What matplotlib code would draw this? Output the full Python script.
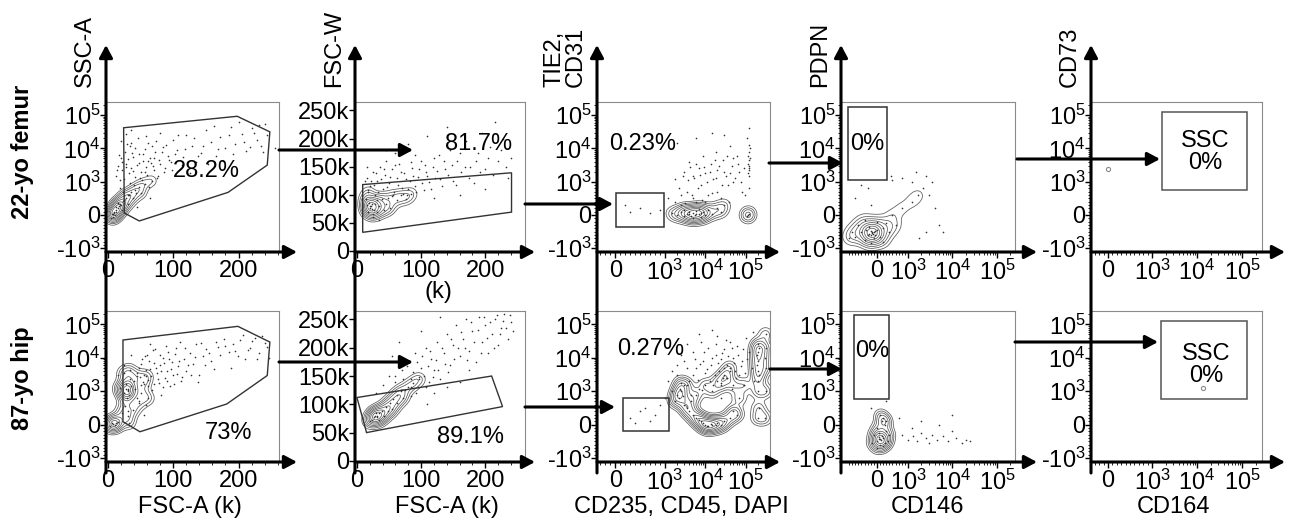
import numpy as np
import matplotlib.pyplot as plt
from matplotlib.patches import FancyArrowPatch, Polygon, Rectangle
from matplotlib.ticker import FixedLocator, FixedFormatter, MultipleLocator, NullLocator

plt.rcParams['font.family'] = ['Liberation Sans', 'DejaVu Sans']
plt.rcParams['mathtext.fontset'] = 'custom'
plt.rcParams['mathtext.rm'] = 'Liberation Sans'
plt.rcParams['mathtext.it'] = 'Liberation Sans:italic'
plt.rcParams['mathtext.bf'] = 'Liberation Sans:bold'

# ---------------- data: events ----------------
# row A = 22-yo femur, row B = 87-yo hip
# col 1: FSC-A (k) vs SSC-A
a1_core = [(6, 30), (9, 90), (12, 150), (15, 200), (11, 0), (18, 320), (23, 410), (27, 500),
           (32, 590), (36, 680), (42, 760), (48, 850), (56, 940), (67, 1070), (21, 150),
           (30, 320), (39, 500), (51, 650), (15, 350), (24, 560), (5, -90), (8, -60),
           (10, 60), (13, 100), (8, 40), (12, 250), (17, 260), (20, 300)]
a1_dots = [(12, 1500), (15, 3000), (18, 800), (20, 5000), (22, 2200), (25, 1200), (26, 8000),
           (28, 3500), (30, 600), (32, 1800), (34, 12000), (36, 2600), (38, 5500), (40, 900),
           (42, 1400), (44, 3200), (46, 20000), (48, 7000), (50, 2000), (52, 1100), (54, 4200),
           (56, 9500), (58, 2800), (60, 1600), (62, 15000), (64, 5000), (66, 3600), (70, 2200),
           (72, 8000), (75, 1300), (78, 4500), (80, 30000), (84, 11000), (88, 2600), (92, 6000),
           (96, 3800), (100, 18000), (105, 9000), (110, 2400), (115, 5500), (120, 25000),
           (128, 12000), (135, 4000), (142, 7500), (150, 35000), (158, 16000), (165, 6000),
           (172, 22000), (180, 10000), (188, 45000), (195, 14000), (205, 28000), (212, 8500),
           (220, 40000), (228, 18000), (235, 12000), (240, 55000), (24, 450), (16, 350),
           (35, 15000), (65, 500), (44, 250),
           (14, 2300), (17, 6200), (19, 1100), (21, 3900), (23, 700), (27, 2700), (29, 14000),
           (31, 4800), (33, 950), (37, 7200), (39, 2100), (41, 10500), (43, 650), (47, 3700),
           (49, 1250), (53, 6600), (57, 1900), (59, 23000), (61, 4100), (63, 850), (67, 11500),
           (69, 2900), (71, 5300), (74, 17000), (77, 1500), (79, 3300), (83, 7800), (86, 1900),
           (89, 13000), (94, 4600), (98, 2300), (103, 6800), (108, 26000), (113, 3200),
           (118, 9800), (125, 1800), (132, 21000), (138, 5900), (146, 12000), (154, 3500),
           (162, 48000), (168, 9500), (176, 4200), (185, 26000), (192, 7000), (200, 62000),
           (208, 16000), (217, 11000), (224, 30000), (232, 50000), (238, 8000), (244, 25000),
           (20, 17000), (28, 28000), (36, 36000), (256, 10000)]
a1_gate = [(24, 42000), (198, 93000), (248, 31600), (244, 3160), (184, 680), (48, -180), (25, 60)]

b1_core = [(30, 1070), (30, 1000), (31, 1150), (27, 1700), (24, 940), (33, 2400), (36, 1400),
           (29, 790), (26, 560), (21, 350), (30, 260), (39, 440), (48, 650), (51, 940),
           (55, 1700), (45, 2800), (18, 1230), (6, 60), (11, 0), (15, 90), (3, -30), (32, 60),
           (24, 3400), (33, 4200), (59, 2800), (61, 790), (28, 1200), (32, 900), (8, 30), (12, 50)]
b1_dots = [(40, 2000), (45, 800), (48, 5000), (50, 1500), (52, 9000), (55, 3000), (58, 600),
           (60, 12000), (62, 2200), (65, 4500), (68, 1100), (70, 7000), (72, 18000), (75, 3500),
           (78, 1800), (80, 6000), (82, 900), (85, 10000), (88, 2500), (90, 4000), (92, 15000),
           (95, 1400), (98, 7500), (100, 3000), (104, 20000), (108, 5500), (112, 2000),
           (116, 9000), (120, 4000), (125, 14000), (130, 6500), (135, 25000), (140, 3000),
           (145, 11000), (150, 18000), (158, 8000), (165, 30000), (172, 12000), (180, 22000),
           (188, 5000), (195, 16000), (202, 35000), (210, 9000), (218, 20000), (225, 40000),
           (232, 14000), (240, 28000), (246, 10000), (15, 3000), (25, 6000), (35, 12000),
           (30, 400), (55, 300), (65, 25000), (110, 30000),
           (42, 1200), (44, 3600), (47, 700), (49, 2600), (51, 6400), (53, 1900), (56, 11000),
           (59, 4200), (61, 1400), (63, 8200), (66, 2900), (69, 17000), (71, 1600), (73, 5100),
           (76, 2300), (79, 12500), (81, 3900), (84, 1300), (86, 6900), (89, 22000), (91, 2000),
           (94, 9500), (97, 4700), (101, 1700), (103, 13000), (106, 3300), (109, 7800),
           (114, 2700), (118, 19000), (122, 6000), (127, 3100), (133, 10500), (138, 1900),
           (143, 27000), (148, 6200), (155, 13500), (162, 4500), (169, 21000), (177, 36000),
           (185, 15000), (192, 26000), (199, 11000), (207, 48000), (214, 17000), (221, 31000),
           (229, 9000), (236, 45000), (243, 21000)]
b1_gate = [(23, 34000), (199, 87000), (248, 29500), (244, 2950), (182, 620), (49, -210), (23, 90)]

# col 2: FSC-A (k) vs FSC-W (k)
a2_core = [(15, 81), (20, 76), (23, 84), (26, 72), (31, 90), (35, 79), (17, 69), (39, 93),
           (46, 84), (54, 97), (62, 90), (69, 99), (77, 93), (85, 102), (14, 93), (18, 104),
           (25, 65), (32, 69), (42, 72), (51, 76), (22, 79), (28, 83), (20, 80), (24, 75), (19, 85)]
a2_dots = [(15, 130), (20, 115), (25, 140), (28, 100), (32, 125), (36, 150), (40, 110),
           (44, 135), (48, 95), (50, 120), (55, 145), (58, 105), (62, 130), (66, 155), (70, 112),
           (74, 138), (78, 100), (82, 125), (86, 148), (90, 115), (95, 132), (100, 160),
           (104, 108), (108, 140), (112, 122), (118, 150), (122, 130), (128, 170), (132, 115),
           (138, 145), (145, 180), (150, 125), (156, 160), (162, 140), (170, 195), (176, 150),
           (182, 120), (188, 175), (195, 210), (200, 145), (208, 185), (215, 230), (220, 160),
           (228, 200), (235, 130), (60, 175), (80, 190), (110, 205), (140, 220), (45, 160),
           (25, 60), (35, 55), (120, 95), (160, 100), (200, 110),
           (18, 108), (22, 125), (27, 118), (30, 138), (33, 104), (38, 128), (42, 146), (47, 113),
           (52, 132), (56, 100), (60, 152), (64, 117), (68, 140), (72, 102), (76, 128), (80, 110),
           (84, 158), (88, 133), (92, 104), (97, 145), (102, 120), (106, 152), (110, 133),
           (115, 110), (120, 165), (125, 142), (130, 128), (136, 160), (142, 135), (148, 152),
           (154, 118), (160, 175), (168, 150), (174, 130), (185, 160), (192, 140), (205, 165),
           (212, 135), (225, 180), (232, 150), (240, 165), (12, 125), (16, 150), (45, 180), (90, 170)]
a2_gate = [(9, 118), (241, 139), (241, 69), (9, 33)]

b2_core = [(26, 77), (31, 80), (35, 84), (23, 73), (34, 73), (39, 89), (45, 95), (51, 102),
           (57, 109), (63, 116), (69, 123), (79, 130), (88, 137), (97, 145), (42, 80), (48, 88),
           (29, 84), (20, 70), (54, 91), (62, 102), (72, 112), (28, 79), (32, 77)]
b2_dots = [(30, 120), (40, 135), (50, 150), (60, 140), (70, 160), (75, 125), (80, 175),
           (85, 145), (90, 190), (95, 130), (100, 165), (105, 150), (108, 200), (112, 140),
           (116, 180), (120, 160), (125, 210), (130, 145), (135, 190), (140, 225), (145, 170),
           (150, 205), (155, 240), (160, 185), (165, 215), (170, 250), (175, 195), (180, 230),
           (185, 175), (190, 255), (195, 210), (200, 240), (205, 190), (210, 225), (215, 250),
           (220, 205), (225, 235), (230, 260), (235, 215), (240, 245), (120, 120), (140, 130),
           (160, 140), (55, 185), (65, 210), (100, 230), (130, 255), (175, 160), (110, 100),
           (60, 150), (72, 145), (78, 168), (84, 130), (88, 158), (93, 175), (97, 148), (102, 185),
           (107, 130), (111, 168), (114, 195), (118, 148), (123, 178), (127, 160), (132, 200),
           (137, 172), (142, 158), (147, 215), (152, 180), (157, 200), (162, 228), (168, 200),
           (172, 178), (178, 245), (183, 210), (188, 232), (193, 190), (198, 255), (203, 218),
           (208, 245), (213, 200), (218, 258), (223, 225), (228, 248), (233, 235), (238, 258),
           (243, 230), (92, 120), (85, 115)]
b2_gate = [(0, 112), (210, 150), (227, 96), (15, 50)]

# col 3: CD235, CD45, DAPI vs TIE2, CD31
a3_core = [(1500, 50), (2000, 0), (2500, 80), (3000, -40), (3500, 30), (4000, 100), (4500, -20),
           (5000, 60), (5500, 0), (6000, 120), (7000, 20), (8000, -60), (9000, 80), (10000, 0),
           (12000, 150), (15000, 40), (20000, 200), (25000, 100), (30000, 300), (3000, 150),
           (5000, -100), (7000, 180), (4000, 40), (6000, 40), (8000, 60), (115000, 0),
           (120000, 40), (110000, -30)]
a3_dots = [(1200, 500), (1800, 1200), (2500, 300), (3000, 2000), (3500, 700), (4000, 4000),
           (5000, 1500), (6000, 400), (7000, 2500), (8000, 900), (9000, 6000), (10000, 1800),
           (12000, 600), (14000, 3500), (16000, 1200), (18000, 8000), (20000, 2200), (24000, 500),
           (28000, 4500), (32000, 1500), (36000, 900), (40000, 12000), (45000, 3000),
           (50000, 1000), (60000, 6000), (70000, 2000), (80000, 700), (120000, 1500),
           (120000, 3000), (115000, 6000), (125000, 10000), (110000, 20000), (120000, 40000),
           (118000, 2200), (122000, 800), (130000, 5000), (300, 100), (500, 200), (700, 50),
           (200, 300), (900, 150), (2000, 15000), (6000, 20000), (15000, 30000), (30000, 25000),
           (2500, 600), (5000, 500), (10000, 400), (20000, 700),
           (1800, 400), (2200, 800), (2800, 1500), (3200, 350), (3800, 1100), (4300, 2800),
           (4800, 600), (5300, 1300), (5800, 3300), (6500, 800), (7500, 1600), (8500, 450),
           (9500, 2800), (11000, 1000), (13000, 2000), (15000, 650), (17000, 4500), (19000, 1300),
           (22000, 3000), (26000, 900), (30000, 2000), (34000, 6000), (38000, 400), (42000, 1800),
           (48000, 5000), (55000, 1300), (65000, 3500), (75000, 1000), (90000, 2500), (95000, 600),
           (117000, 1800), (121000, 4500), (119000, 8000), (123000, 13000), (116000, 3500),
           (124000, 2500)]
a3_gate = (20, 980, -350, 650)

b3_core = [(2000, 900), (2200, 800), (2500, 1000), (1800, 700), (2800, 850), (3000, 600),
           (2400, 1200), (4000, 400), (5000, 300), (6000, 200), (8000, 100), (10000, 0),
           (12000, -50), (15000, 0), (20000, 50), (25000, 0), (30000, 100), (40000, 200),
           (50000, 400), (60000, 300), (9000, 50), (11000, -30), (14000, 20), (18000, -20),
           (7000, 150), (3500, 500), (20000, 2000), (30000, 3000), (10000, 1500), (40000, 5000),
           (50000, 1500), (200000, 1000), (200000, 2000), (200000, 4000), (200000, 8000),
           (200000, 15000), (200000, 25000), (210000, 500), (210000, 3000), (190000, 6000),
           (190000, 12000), (210000, 20000), (200000, 200), (310000, 1000), (310000, 5000),
           (310000, 20000), (310000, 50000), (300000, 200), (300000, 10000),
           (15000, 1000), (25000, 1500), (35000, 2500), (70000, 800), (90000, 1500),
           (4500, 700), (6000, 900), (3500, 1500), (2500, 1800)]
b3_dots = [(300, 200), (500, 400), (700, 100), (900, 600), (400, 50), (800, 300), (1200, 2000),
           (1500, 4000), (2000, 3000), (3000, 8000), (4000, 2000), (5000, 15000), (6000, 5000),
           (7000, 1200), (8000, 30000), (9000, 8000), (10000, 3500), (12000, 20000), (14000, 6000),
           (16000, 1500), (18000, 12000), (20000, 45000), (22000, 4000), (25000, 9000),
           (28000, 2500), (30000, 18000), (35000, 6000), (40000, 30000), (45000, 1200),
           (50000, 10000), (55000, 4000), (60000, 22000), (70000, 3000), (80000, 8000),
           (90000, 1500), (100000, 40000), (120000, 15000), (140000, 5000), (150000, 60000),
           (160000, 2000), (3500, 25000), (7000, 50000), (15000, 70000), (2500, 12000),
           (25000, 800),
           (3000, 1500), (3500, 5000), (4500, 900), (5000, 3000), (5500, 9000), (6500, 2200),
           (7500, 6500), (8500, 1100), (9500, 15000), (11000, 4500), (13000, 2000), (15000, 10000),
           (17000, 3000), (19000, 25000), (21000, 7000), (24000, 1800), (26000, 14000),
           (29000, 5000), (32000, 35000), (34000, 2500), (37000, 11000), (42000, 4000),
           (46000, 20000), (52000, 7000), (58000, 2500), (65000, 12000), (75000, 5500),
           (85000, 18000), (95000, 3500), (110000, 9000), (2000, 6000), (1000, 800), (600, 500),
           (1500, 1000)]
b3_gate = (160, 1250, -200, 790)

# col 4: CD146 vs PDPN
a4_core = [(-160, -530), (-160, -500), (-120, -560), (-200, -480), (-100, -520), (-180, -600),
           (-60, -470), (-250, -560), (-300, -600), (0, -450), (-500, -500), (-100, -700),
           (200, -400), (-400, -750), (-700, -650), (100, -650), (-250, -350), (300, -250),
           (-600, -300), (-800, -500), (400, -500), (-200, -850), (0, -200), (600, -300),
           (-900, -700), (-350, -450), (-50, -600), (500, 0), (800, 200), (1200, 400),
           (1700, 600), (-400, -150), (200, -800)]
a4_dots = [(-300, 800), (-500, 900), (450, 1500), (500, 1100), (1500, 2000), (2500, 1500),
           (3000, 600), (4000, 200), (5000, -300), (2500, -500), (-200, 300), (800, 1300),
           (3500, 1000), (6000, -500), (-700, 500), (1800, -700), (1200, 1000), (2200, 800)]
a4_gate = (-930, 320, 1150, 180000)

b4_core = [(100, -440), (80, -420), (120, -470), (0, -500), (200, -400), (-100, -300),
           (300, -200), (100, -600), (200, -650), (0, -100), (150, 100), (250, 0), (50, -250),
           (-150, -550), (350, -500), (400, -300), (150, -350), (100, 300), (200, 200),
           (300, 100), (0, -700), (250, -550), (60, -380)]
b4_dots = [(800, -300), (1000, -450), (1300, -350), (1600, -500), (2000, -250), (2500, -400),
           (3000, -550), (3500, -300), (4500, -450), (6000, -350), (8000, -500), (10000, -200),
           (12000, -400), (16000, -550), (20000, -450), (25000, -500), (1200, -100), (2000, 100),
           (5000, 0), (10000, 300), (-200, 500), (300, 700), (700, 200)]
b4_gate = (-740, 390, 760, 195000)

# col 5: CD164 vs CD73
a5_dots = [(0, 2400)]
a5_gate = (1670, 130000, 740, 123000)
b5_dots = [(13500, 1230)]
b5_gate = (1620, 130000, 760, 130000)

gate_labels = [['28.2%', '81.7%', '0.23%', '0%', 'SSC\n0%'],
               ['73%', '89.1%', '0.27%', '0%', 'SSC\n0%']]
row_labels = ['22-yo femur', '87-yo hip']
y_titles = ['SSC-A', 'FSC-W', 'TIE2,\nCD31', 'PDPN', 'CD73']
x_titles = ['FSC-A (k)', 'FSC-A (k)', 'CD235, CD45, DAPI', 'CD146', 'CD164']

# ---------------- layout (pixels of the 1292x523 canvas) ----------------
W, H = 1292, 523
FS = 17
col_left = [106, 355, 597, 841, 1091]
col_right = [279, 525, 770, 1015, 1262]
axis_tip = [297, 535, 780, 1037, 1285]
row_top = [102, 311]
row_bottom = [252, 462]
x_linscale = [None, None, 1.1, 0.627, 0.88]
x_lims = [(-3, 262), (-3, 262), (-370, 4e5), (-1295, 2.54e5), (-386, 2.78e5)]
log_ylim = (-1300, 2.5e5)
kde_bw = [[4.5, 5, 5, 6, 0], [5, 5, 5, 4.5, 0]]

label_pos = [[(206, 171), (479, 144), (643, 144), (867, 144), (1205, 152)],
             [(229, 433), (470, 437), (651, 349), (872, 351), (1206, 365)]]
links = [[(279, 413, 150), (525, 613, 204), (769, 843, 163), (1017, 1160, 159)],
         [(279, 413, 362), (525, 615, 407), (770, 842, 369), (1015, 1158, 342)]]
x_center = [190, 447, 681, 928, 1173]

fig = plt.figure(figsize=(W / 100, H / 100), dpi=100)


def fpt(x, y):
    return (x / W, 1 - y / H)


def arrow(x0, y0, x1, y1):
    fig.add_artist(FancyArrowPatch(fpt(x0, y0), fpt(x1, y1), transform=fig.transFigure,
                                   arrowstyle='-|>,head_length=0.75,head_width=0.4',
                                   mutation_scale=10, lw=2.2, color='k',
                                   shrinkA=0, shrinkB=0, zorder=10))


def sym_minor(lo, hi):
    t = list(range(-900, 1000, 100))
    for dec in (1e3, 1e4, 1e5):
        for m in range(2, 10):
            t += [m * dec, -m * dec]
    return [v for v in t if lo < v < hi and v != 0]


pow_lab = {1e3: r'$\mathregular{10^3}$', 1e4: r'$\mathregular{10^4}$', 1e5: r'$\mathregular{10^5}$'}


def setup(ax, c):
    if c < 2:
        ax.set_xlim(*x_lims[c])
        ax.xaxis.set_major_locator(FixedLocator([0, 100, 200]))
        ax.xaxis.set_major_formatter(FixedFormatter(['0', '100', '200']))
        ax.xaxis.set_minor_locator(MultipleLocator(20))
    else:
        ax.set_xscale('symlog', linthresh=1000, linscale=x_linscale[c], base=10)
        ax.set_xlim(*x_lims[c])
        ax.xaxis.set_major_locator(FixedLocator([0, 1e3, 1e4, 1e5]))
        ax.xaxis.set_major_formatter(FixedFormatter(['0', pow_lab[1e3], pow_lab[1e4], pow_lab[1e5]]))
        ax.xaxis.set_minor_locator(FixedLocator(sym_minor(*x_lims[c])))
    if c == 1:
        ax.set_ylim(-2, 265)
        ax.yaxis.set_major_locator(FixedLocator([0, 50, 100, 150, 200, 250]))
        ax.yaxis.set_major_formatter(FixedFormatter(['0', '50k', '100k', '150k', '200k', '250k']))
        ax.yaxis.set_minor_locator(NullLocator())
    else:
        ax.set_yscale('symlog', linthresh=1000, linscale=0.9, base=10)
        ax.set_ylim(*log_ylim)
        ax.yaxis.set_major_locator(FixedLocator([-1e3, 0, 1e3, 1e4, 1e5]))
        ax.yaxis.set_major_formatter(FixedFormatter(
            [r'-$\mathregular{10^3}$', '0', pow_lab[1e3], pow_lab[1e4], pow_lab[1e5]]))
        ax.yaxis.set_minor_locator(FixedLocator(sym_minor(*log_ylim)))
    ax.tick_params(which='major', length=4, width=1, labelsize=FS, color='k')
    ax.tick_params(which='minor', length=2, width=0.6, color='k')
    ax.tick_params(axis='y', pad=0)
    ax.tick_params(axis='x', pad=1.5)
    for s in ax.spines.values():
        s.set_color('#8a8a8a')
        s.set_linewidth(0.8)


def density(ax, pts, bw_px):
    # kernel density of the typed events, drawn as flow-style contour lines
    if len(pts) < 3:
        return
    p = ax.transAxes.inverted().transform(ax.transData.transform(np.asarray(pts, float)))
    bb = ax.get_window_extent()
    bx, by = bw_px / bb.width, bw_px / bb.height
    g = np.linspace(0, 1, 260)
    gx, gy = np.meshgrid(g, g)
    z = np.zeros_like(gx)
    for px, py in p:
        z += np.exp(-0.5 * (((gx - px) / bx) ** 2 + ((gy - py) / by) ** 2))
    lev = z.max() * np.array([0.07, 0.13, 0.2, 0.29, 0.4, 0.52, 0.66, 0.82])
    ax.contour(gx, gy, z, levels=lev, colors='#5a5a5a', linewidths=0.55,
               transform=ax.transAxes, zorder=2)


cores = [[a1_core, a2_core, a3_core, a4_core, []], [b1_core, b2_core, b3_core, b4_core, []]]
dots = [[a1_dots, a2_dots, a3_dots, a4_dots, a5_dots], [b1_dots, b2_dots, b3_dots, b4_dots, b5_dots]]
gates = [[a1_gate, a2_gate, a3_gate, a4_gate, a5_gate], [b1_gate, b2_gate, b3_gate, b4_gate, b5_gate]]

for r in range(2):
    for c in range(5):
        x0, x1 = col_left[c], col_right[c]
        y0, y1 = row_top[r], row_bottom[r]
        ax = fig.add_axes([x0 / W, 1 - y1 / H, (x1 - x0) / W, (y1 - y0) / H])
        setup(ax, c)
        density(ax, cores[r][c], kde_bw[r][c])
        if c == 4:
            d = np.asarray(dots[r][c], float)
            ax.plot(d[:, 0], d[:, 1], 'o', ms=3, mfc='none', mec='#8a8a8a', mew=0.8)
        else:
            ev = np.asarray(cores[r][c] + dots[r][c], float)
            ax.scatter(ev[:, 0], ev[:, 1], s=1.4, c='#333333', lw=0, zorder=3)
        g = gates[r][c]
        if isinstance(g, tuple):
            ax.add_patch(Rectangle((g[0], g[2]), g[1] - g[0], g[3] - g[2], fill=False,
                                   ec='#333' if c < 4 else '#555', lw=1.1, zorder=4))
        else:
            ax.add_patch(Polygon(g, closed=True, fill=False, ec='#333', lw=1.0, zorder=4))
        ax.set_xlim(*x_lims[c])
        lx, ly = label_pos[r][c]
        fig.text(lx / W, 1 - ly / H, gate_labels[r][c], fontsize=FS, ha='center', va='center',
                 linespacing=1.05)
        arrow(x0, y1, axis_tip[c], y1)

# thick y axes, continuous through both rows
for c in range(5):
    arrow(col_left[c], 473, col_left[c], 45)
    fig.text((col_left[c] - 10) / W, 1 - 87 / H, y_titles[c], rotation=90, fontsize=FS,
             ha='right', va='bottom', multialignment='left', linespacing=1.0)
    fig.text(x_center[c] / W, 1 - 507 / H, x_titles[c], fontsize=FS, ha='center', va='center')

fig.text(438 / W, 1 - 292 / H, '(k)', fontsize=FS, ha='center', va='center')
for r in range(2):
    fig.text(22 / W, 1 - (152, 378)[r] / H, row_labels[r], rotation=90, fontsize=FS,
             fontweight='bold', ha='center', va='center')
    for (xa, xb, yy) in links[r]:
        arrow(xa, yy, xb, yy)

fig.savefig('out.png', dpi=100)
